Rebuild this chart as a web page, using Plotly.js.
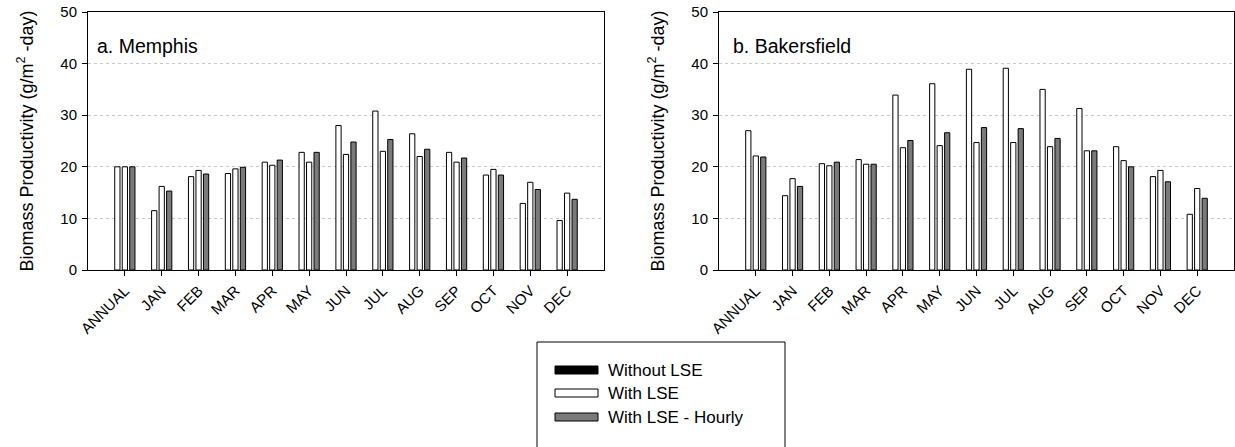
<!DOCTYPE html>
<html>
<head>
<meta charset="utf-8">
<script src="https://cdn.plot.ly/plotly-3.0.1.min.js"></script>
<style>html,body{margin:0;padding:0;background:#fff;}#chart{width:1235px;height:447px;}</style>
</head>
<body>
<div id="chart"></div>
<script>
// ---- data ----
var categories = ["ANNUAL","JAN","FEB","MAR","APR","MAY","JUN","JUL","AUG","SEP","OCT","NOV","DEC"];
var seriesNames = ["Without LSE","With LSE","With LSE - Hourly"];

var memphisWithout = [20.0, 11.5, 18.1, 18.7, 20.9, 22.8, 28.0, 30.8, 26.4, 22.8, 18.4, 12.9, 9.6];
var memphisWith    = [20.0, 16.2, 19.3, 19.6, 20.3, 20.9, 22.4, 23.0, 22.0, 20.9, 19.5, 17.0, 14.9];
var memphisHourly  = [20.0, 15.3, 18.6, 19.9, 21.3, 22.8, 24.8, 25.3, 23.4, 21.7, 18.4, 15.6, 13.7];

var bakersWithout = [27.0, 14.4, 20.6, 21.4, 33.9, 36.1, 38.9, 39.1, 35.0, 31.3, 23.9, 18.1, 10.8];
var bakersWith    = [22.1, 17.7, 20.2, 20.5, 23.7, 24.1, 24.7, 24.7, 23.9, 23.1, 21.2, 19.3, 15.8];
var bakersHourly  = [21.9, 16.2, 20.9, 20.5, 25.1, 26.6, 27.6, 27.4, 25.5, 23.1, 20.0, 17.1, 13.9];

var panelLabels = ["a. Memphis", "b. Bakersfield"];
var yTitle = "Biomass Productivity (g/m<sup>2</sup> -day)";

// ---- layout helpers (pixel -> paper) ----
var ML = 88, MR = 1, MT = 12, MB = 177, W = 1235, H = 447;
var PW = W - ML - MR, PH = H - MT - MB;
function px(x){ return (x - ML) / PW; }
function py(y){ return (H - MB - y) / PH; }

var FONT = "Liberation Sans, Arial, sans-serif";
var plotFills = ["#ffffff", "#ffffff", "#7a7a7a"];
var legendFills = ["#000000", "#ffffff", "#7a7a7a"];

function mk(y, i, xa, ya){
  return {
    type: "bar", x: categories, y: y, name: seriesNames[i],
    xaxis: xa, yaxis: ya, showlegend: false,
    marker: {color: plotFills[i], line: {color: "#000", width: 1}},
    hoverinfo: "x+y+name"
  };
}

var data = [
  mk(memphisWithout, 0, "x", "y"),
  mk(memphisWith, 1, "x", "y"),
  mk(memphisHourly, 2, "x", "y"),
  mk(bakersWithout, 0, "x2", "y2"),
  mk(bakersWith, 1, "x2", "y2"),
  mk(bakersHourly, 2, "x2", "y2")
];

function xax(dom, anchor){
  return {
    domain: dom, anchor: anchor, type: "category",
    range: [-1, categories.length],
    showline: true, linecolor: "#000", linewidth: 1, mirror: true,
    ticks: "outside", ticklen: 5, tickcolor: "#000",
    tickangle: -45, tickfont: {family: FONT, size: 15, color: "#000"},
    showgrid: false, zeroline: false, fixedrange: true
  };
}
function yax(anchor){
  return {
    domain: [0, 1], anchor: anchor, range: [0, 50], dtick: 10,
    showline: true, linecolor: "#000", linewidth: 1, mirror: true,
    ticks: "outside", ticklen: 5, tickcolor: "#000", ticklabelstandoff: 2,
    tickfont: {family: FONT, size: 15, color: "#000"},
    showgrid: true, gridcolor: "#c8c8c8", griddash: "dot", gridwidth: 1,
    zeroline: false, fixedrange: true,
    title: {text: yTitle, font: {family: FONT, size: 18, color: "#000"}, standoff: 22}
  };
}

var shapes = [];
var annotations = [];

// panel labels
annotations.push({xref: "paper", yref: "paper", x: px(95), y: py(46), xanchor: "left", yanchor: "middle",
  text: panelLabels[0], showarrow: false, font: {family: FONT, size: 19.5, color: "#000"}});
annotations.push({xref: "paper", yref: "paper", x: px(731), y: py(46), xanchor: "left", yanchor: "middle",
  text: panelLabels[1], showarrow: false, font: {family: FONT, size: 19.5, color: "#000"}});

// legend box (custom)
shapes.push({type: "rect", xref: "paper", yref: "paper", x0: px(537), x1: px(785), y0: py(460), y1: py(342),
  line: {color: "#000", width: 1}, fillcolor: "rgba(0,0,0,0)"});
var rowsY = [370, 393, 417];
for (var i = 0; i < seriesNames.length; i++){
  shapes.push({type: "rect", xref: "paper", yref: "paper", x0: px(555), x1: px(598),
    y0: py(rowsY[i] + 4), y1: py(rowsY[i] - 4),
    line: {color: "#000", width: 1}, fillcolor: legendFills[i]});
  annotations.push({xref: "paper", yref: "paper", x: px(606), y: py(rowsY[i]), xanchor: "left", yanchor: "middle",
    text: seriesNames[i], showarrow: false, font: {family: FONT, size: 17, color: "#000"}});
}

var layout = {
  width: W, height: H,
  margin: {l: ML, r: MR, t: MT, b: MB, pad: 0},
  paper_bgcolor: "#fff", plot_bgcolor: "#fff",
  barmode: "group", bargap: 0.39, bargroupgap: 0.3,
  showlegend: false,
  xaxis: xax([0, px(604)], "y"),
  yaxis: yax("x"),
  xaxis2: xax([px(719), 1], "y2"),
  yaxis2: yax("x2"),
  shapes: shapes,
  annotations: annotations,
  font: {family: FONT, color: "#000"}
};

Plotly.newPlot("chart", data, layout, {displayModeBar: false, staticPlot: true});
</script>
</body>
</html>
